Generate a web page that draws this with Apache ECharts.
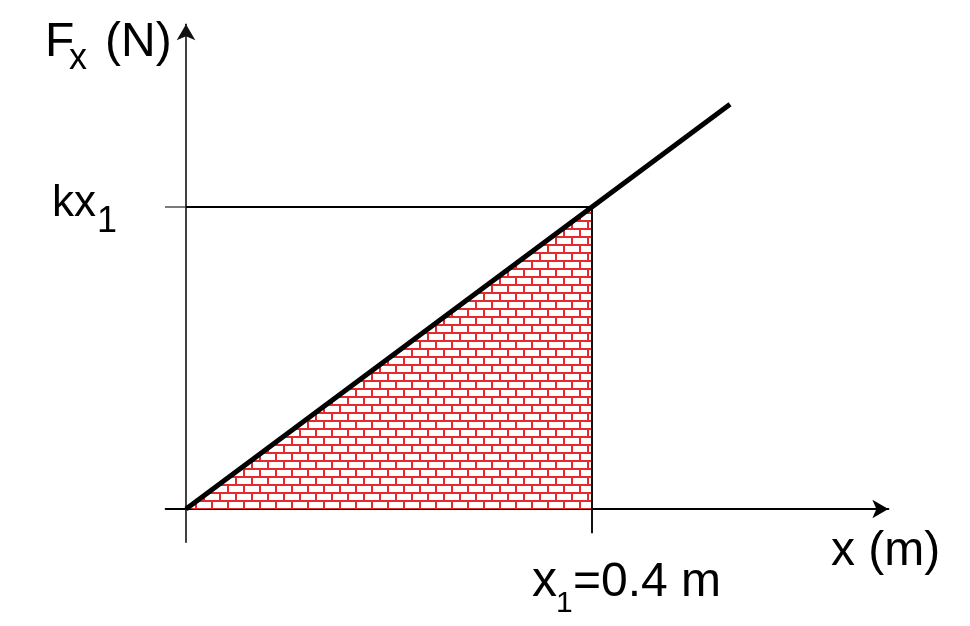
<!DOCTYPE html>
<html>
<head>
<meta charset="utf-8">
<script src="https://cdn.jsdelivr.net/npm/echarts@6/dist/echarts.min.js"></script>
<style>html,body{margin:0;padding:0;background:#fff;}#c{width:970px;height:626px;}</style>
</head>
<body>
<div id="c"></div>
<script>
// ---- data (x in m, F in units of k*x1) ----
const k = 2.5;                       // F = k * x, with k*x1 = 1
const x1 = 0.4;
const forceLineX = [0, 0.536];
const forceLineY = [0, 1.34];
const areaX = [0, 0.4];
const areaY = [0, 1.0];
const kx1Value = 1.0;

// axis ranges
const xMin = -0.02, xMax = 0.692, yMin = -0.11, yMax = 1.605;
const pxPerX = 1015, pxPerY = 302, originPx = [186, 509];

// brick pattern
function brickPattern() {
  const c = document.createElement('canvas');
  c.width = 16; c.height = 16;
  const g = c.getContext('2d');
  g.fillStyle = '#ffffff';
  g.fillRect(0, 0, 16, 16);
  g.strokeStyle = '#e42a2a';
  g.lineWidth = 2;
  g.beginPath();
  g.moveTo(0, 5); g.lineTo(16, 5);
  g.moveTo(0, 13); g.lineTo(16, 13);
  g.moveTo(4, 5); g.lineTo(4, 13);
  g.moveTo(12, 13); g.lineTo(12, 16);
  g.moveTo(12, 0); g.lineTo(12, 5);
  g.stroke();
  return c;
}

const chart = echarts.init(document.getElementById('c'), null, {renderer: 'canvas'});

const gridLeft = originPx[0] + xMin * pxPerX;
const gridWidth = (xMax - xMin) * pxPerX;
const gridTop = originPx[1] - yMax * pxPerY;
const gridHeight = (yMax - yMin) * pxPerY;

function txt(str, x, baseline, size) {
  return {
    type: 'text', left: x, top: baseline - 0.85 * size,
    style: {text: str, font: size + 'px "Liberation Sans", Arial, sans-serif', fill: '#000'}
  };
}

const option = {
  animation: false,
  backgroundColor: '#fff',
  grid: {left: gridLeft, top: gridTop, width: gridWidth, height: gridHeight, containLabel: false},
  xAxis: {
    type: 'value', min: xMin, max: xMax,
    axisLine: {onZero: true, lineStyle: {color: '#000', width: 2}, symbol: ['none', 'arrow'], symbolSize: [14, 16]},
    axisTick: {show: false}, axisLabel: {show: false}, splitLine: {show: false}
  },
  yAxis: {
    type: 'value', min: yMin, max: yMax,
    axisLine: {onZero: true, lineStyle: {color: '#111', width: 1.6}, symbol: ['none', 'arrow'], symbolSize: [14, 16]},
    axisTick: {show: false}, axisLabel: {show: false}, splitLine: {show: false}
  },
  series: [
    {
      type: 'line', data: areaX.map((v, i) => [v, areaY[i]]), showSymbol: false, symbol: 'none',
      lineStyle: {width: 0},
      areaStyle: {color: {image: brickPattern(), repeat: 'repeat'}, opacity: 1},
      z: 1
    },
    {
      type: 'line', data: [[xMin - 0.008, kx1Value], [0, kx1Value]], symbol: 'none', clip: false,
      lineStyle: {color: '#333', width: 1.3}, z: 2
    },
    {
      type: 'line', data: [[0, kx1Value], [x1, kx1Value]], symbol: 'none',
      lineStyle: {color: '#000', width: 2}, z: 2
    },
    {
      type: 'line', data: [[x1, kx1Value], [x1, -0.08]], symbol: 'none',
      lineStyle: {color: '#111', width: 2}, z: 2
    },
    {
      type: 'line', data: forceLineX.map((v, i) => [v, forceLineY[i]]), symbol: 'none',
      lineStyle: {color: '#000', width: 5}, z: 3
    }
  ],
  graphic: [
    txt('F', 45, 60, 48),
    txt('x', 69, 72, 36),
    txt('(N)', 105, 60, 48),
    txt('kx', 52, 219, 44),
    txt('1', 97, 235, 36),
    txt('x (m)', 831, 569, 48),
    txt('x', 532, 600, 50),
    txt('1', 556, 614, 30),
    txt('=0.4 m', 573, 600, 48)
  ]
};
chart.setOption(option);
</script>
</body>
</html>
